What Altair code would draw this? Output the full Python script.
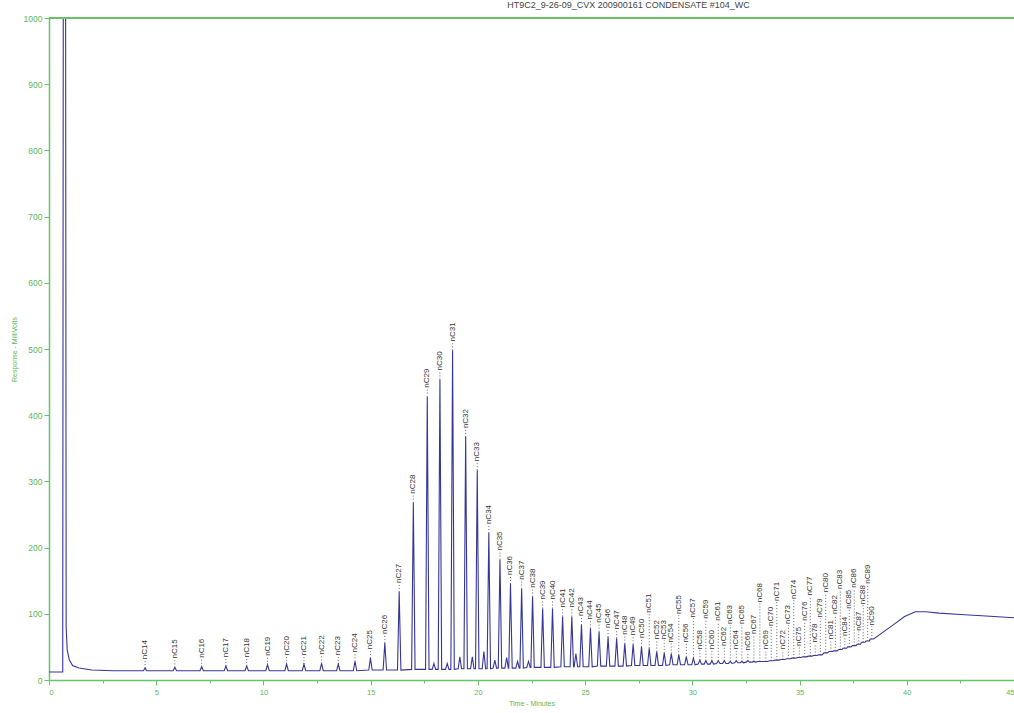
import altair as alt
import pandas as pd

# ---------------- data ----------------
peak_names = [f"nC{n}" for n in range(14, 91)]
peak_t = [4.48, 5.87, 7.12, 8.25, 9.22, 10.19, 11.08, 11.89, 12.71, 13.49,
          14.27, 14.99, 15.66, 16.33, 16.99, 17.64, 18.23, 18.82, 19.43, 19.97,
          20.51, 21.03, 21.52, 22.04, 22.55, 23.02, 23.48, 23.95, 24.38, 24.83,
          25.25, 25.65, 26.07, 26.47, 26.85, 27.24, 27.63, 27.99, 28.34, 28.69,
          29.02, 29.37, 29.72, 30.05, 30.35, 30.63, 30.91, 31.21, 31.49, 31.77,
          32.05, 32.31, 32.59, 32.87, 33.15, 33.43, 33.68, 33.94, 34.22, 34.48,
          34.73, 34.99, 35.24, 35.50, 35.73, 35.97, 36.22, 36.46, 36.67, 36.90,
          37.11, 37.32, 37.55, 37.76, 37.97, 38.18, 38.37]
peak_h = [18, 19, 20, 21, 21, 23, 24, 24, 25, 24,
          28, 33, 56, 133, 268, 428, 454, 498, 367, 317,
          222, 182, 145, 138, 126, 108, 108, 96, 96, 83,
          78, 73, 65, 63, 55, 54, 50, 48, 43, 41,
          40, 38, 35, 33, 30, 29, 29, 29, 29, 28,
          29, 28, 29, 28, 28, 28, 29, 30, 31, 32,
          33, 34, 35, 36, 37, 38, 41, 43, 44, 46,
          48, 50, 52, 54, 57, 59, 62]
peak_base = [14, 14, 14, 14, 14, 14, 14, 14, 14, 14,
             14, 15, 15, 15, 16, 16, 16, 16, 17, 17,
             17, 18, 18, 18, 19, 19, 19, 20, 20, 20,
             20, 21, 21, 21, 21, 22, 22, 22, 22, 22,
             23, 23, 23, 23, 24, 24, 24, 25, 25, 25,
             26, 26, 27, 27, 28, 28, 29, 30, 31, 32,
             33, 34, 35, 36, 37, 38, 41, 43, 44, 46,
             48, 50, 52, 54, 57, 59, 62]
# label bottoms (mV) for the staggered labels nC51 .. nC90
late_label_level = [100, 60, 60, 55, 98, 55, 93, 45, 91, 45,
                    88, 50, 83, 45, 83, 43, 68, 116, 45, 80,
                    118, 45, 83, 121, 50, 88, 126, 55, 93, 131,
                    60, 98, 136, 65, 106, 138, 73, 113, 144, 81]

# unlabeled (branched) peaks
minor_t = [17.95, 18.57, 19.16, 19.74, 20.28, 20.79, 21.34, 21.85, 22.36, 24.57]
minor_h = [25, 25, 35, 35, 43, 30, 34, 28, 28, 40]
minor_base = [16, 16, 17, 17, 17, 18, 18, 18, 19, 20]

# solvent front and column-bleed hump
knot_t = [0.0, 0.64, 0.67, 0.77, 0.80, 0.85, 0.95, 1.10, 1.40, 2.00, 3.00, 4.00,
          38.80, 39.40, 39.90, 40.40, 40.90, 41.50, 42.50, 43.50, 45.00]
knot_v = [12, 12, 1200, 1200, 80, 45, 30, 22, 18, 15, 14, 14,
          70, 84, 96, 103, 103, 101, 99, 97, 94]

title_text = "HT9C2_9-26-09_CVX 200900161 CONDENSATE #104_WC"

# ---------------- build tables ----------------
HALF_W = 0.08  # half width of a peak, minutes (style)
pts = list(zip(knot_t, knot_v))
for t, h, b in zip(peak_t, peak_h, peak_base):
    pts += [(t - HALF_W, b), (t, h), (t + HALF_W, b)]
for t, h, b in zip(minor_t, minor_h, minor_base):
    pts += [(t - HALF_W, b), (t, h), (t + HALF_W, b)]
pts.sort()
trace = pd.DataFrame(pts, columns=["t", "v"])
trace["i"] = range(len(trace))

n_early = len(peak_names) - len(late_label_level)
label_level = [h + 12 for h in peak_h[:n_early]] + late_label_level
peaks = pd.DataFrame({"name": peak_names, "t": peak_t, "h": peak_h, "ly": label_level})

GREEN = "#66c466"
LABEL_GREEN = "#5ab85a"
NAVY = "#36369a"

x_scale = alt.Scale(domain=[0, 45], nice=False, zero=False)
y_scale = alt.Scale(domain=[0, 1000], nice=False)

x_axis = alt.Axis(
    values=[i * 2.5 for i in range(19)], format="d",
    labelExpr="datum.value % 5 === 0 ? datum.label : ''",
    tickSize={"condition": {"test": "datum.value % 5 === 0", "value": 5}, "value": 3},
    title="Time - Minutes", grid=False,
    domainColor=GREEN, domainWidth=1.5, tickColor=GREEN, tickWidth=1,
    labelColor=LABEL_GREEN, labelFontSize=7.5, labelFont="Liberation Sans", labelPadding=3,
    titleColor=LABEL_GREEN, titleFontSize=7, titleFont="Liberation Sans",
    titleFontWeight="normal", titlePadding=4,
)
y_axis = alt.Axis(
    values=[i * 50 for i in range(21)], format="d",
    labelExpr="datum.value % 100 === 0 ? datum.label : ''",
    tickSize={"condition": {"test": "datum.value % 100 === 0", "value": 5}, "value": 3},
    title="Response - MilliVolts", grid=False,
    domainColor=GREEN, domainWidth=1.5, tickColor=GREEN, tickWidth=1,
    labelColor=LABEL_GREEN, labelFontSize=8.5, labelFont="Liberation Sans", labelPadding=2,
    titleColor=LABEL_GREEN, titleFontSize=7, titleFont="Liberation Sans",
    titleFontWeight="normal", titlePadding=6,
)

line = alt.Chart(trace).mark_line(color=NAVY, strokeWidth=1.1, clip=True).encode(
    x=alt.X("t:Q", scale=x_scale, axis=x_axis),
    y=alt.Y("v:Q", scale=y_scale, axis=y_axis),
    order="i:Q",
)

leaders = alt.Chart(peaks).mark_rule(color="#555555", strokeWidth=0.9, strokeDash=[1, 2]).encode(
    x="t:Q", y="h:Q", y2="ly:Q"
)

labels = alt.Chart(peaks).mark_text(
    angle=270, align="left", baseline="middle", fontSize=8,
    font="Liberation Sans", color="#333333", dx=1,
).encode(x="t:Q", y="ly:Q", text="name:N")

top = alt.Chart(pd.DataFrame({"v": [1000]})).mark_rule(color=GREEN, strokeWidth=2).encode(y="v:Q")

chart = alt.layer(line, leaders, labels, top).properties(
    width=965, height=662,
    padding={"left": 49, "top": 18, "right": 0, "bottom": 33},
    autosize=alt.AutoSizeParams(type="none"),
    title=alt.TitleParams(title_text, fontSize=9, font="Liberation Sans", color="#444444",
                          fontWeight="normal", anchor="middle", dx=97, offset=4),
).configure_view(stroke=None)

chart.save("out.html", embed_options={"renderer": "svg", "actions": False})
